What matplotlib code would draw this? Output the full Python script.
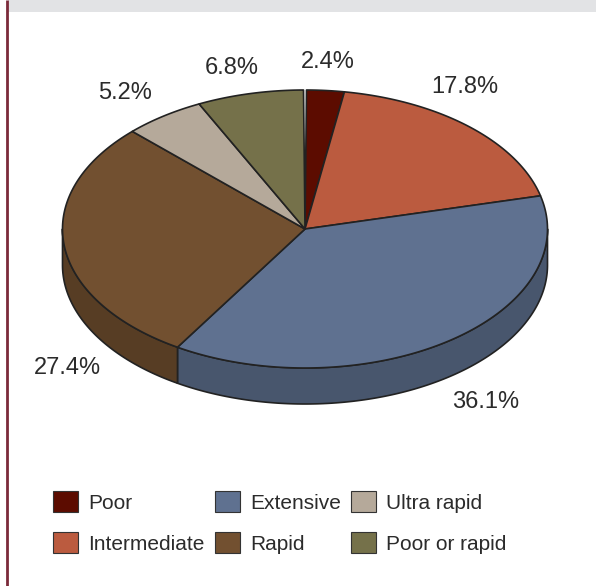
import numpy as np
import matplotlib
matplotlib.use("Agg")
import matplotlib.pyplot as plt
from matplotlib.patches import Polygon, Patch, Rectangle
import matplotlib.colors as mcolors

plt.rcParams['font.family'] = ['Liberation Sans', 'DejaVu Sans']

# phenotype shares (%), clockwise from 12 o'clock
kategoriler = ["Poor", "Intermediate", "Extensive", "Rapid", "Ultra rapid", "Poor or rapid"]
oranlar = [2.4, 17.8, 36.1, 27.4, 5.2, 6.8]
etiketler = ["2.4%", "17.8%", "36.1%", "27.4%", "5.2%", "6.8%"]
renkler = ["#5c0c00", "#bb5b3f", "#5f7190", "#725030", "#b5a99a", "#75714a"]

# label anchors (figure pixels)
etiket_yer = [(328, 62), (465, 87), (486, 402), (67, 368), (125, 93), (232, 68)]

W, H = 596, 586
cx, cy = 305, 229      # centre of top face
rx, ry = 242.5, 139    # ellipse radii
derinlik = 36          # side wall height
bosluk = 0.7           # thin gap at 12 o'clock (deg)
yazi_renk = "#2b2b2b"

fig = plt.figure(figsize=(W / 100, H / 100), dpi=100)
ax = fig.add_axes([0, 0, 1, 1])
ax.set_xlim(0, W)
ax.set_ylim(H, 0)
ax.axis("off")

# header band + left rule
ax.add_patch(Rectangle((8, 0), W - 8, 12, facecolor="#e2e3e5", edgecolor="none"))
ax.plot([7, 7], [0, H], color="#7b2a3a", lw=2, solid_capstyle="butt")


def elips(t, dy=0):
    r = np.radians(t)
    return cx + rx * np.cos(r), cy - ry * np.sin(r) + dy


def koyu(c, k=0.76):
    r, g, b = mcolors.to_rgb(c)
    return (r * k, g * k, b * k)


toplam = sum(oranlar)
olcek = (360 - bosluk) / toplam
dilimler = []
bas = 90 - bosluk / 2
for v in oranlar:
    acik = v * olcek
    dilimler.append((bas - acik, bas))
    bas -= acik

# side walls (only the front half shows)
for (lo, hi), c in zip(dilimler, renkler):
    for w0, w1 in [(-180, 0), (180, 360)]:
        a, b = max(lo, w0), min(hi, w1)
        if b <= a:
            continue
        t = np.linspace(a, b, 200)
        x1, y1 = elips(t)
        x2, y2 = elips(t[::-1], derinlik)
        pts = np.column_stack([np.r_[x1, x2], np.r_[y1, y2]])
        ax.add_patch(Polygon(pts, closed=True, facecolor=koyu(c), edgecolor="#222222",
                             lw=1.2, joinstyle="round"))

# top faces
for (lo, hi), c in zip(dilimler, renkler):
    t = np.linspace(lo, hi, 200)
    x, y = elips(t)
    pts = np.column_stack([np.r_[cx, x], np.r_[cy, y]])
    ax.add_patch(Polygon(pts, closed=True, facecolor=c, edgecolor="#222222",
                         lw=1.2, joinstyle="round"))

for txt, (x, y) in zip(etiketler, etiket_yer):
    ax.text(x, y, txt, ha="center", va="center", fontsize=17, color=yazi_renk)

tutamak = [Patch(facecolor=c, edgecolor="#333333", lw=0.8) for c in renkler]
fig.legend(tutamak, kategoriler, ncol=3, frameon=False, fontsize=15,
           loc="upper left", bbox_to_anchor=(53 / W, 1 - 491 / H),
           borderpad=0, borderaxespad=0,
           handlelength=1.2, handleheight=1.2, handletextpad=0.48,
           columnspacing=0.5, labelspacing=0.92, labelcolor=yazi_renk)

fig.savefig("out.png", dpi=100)
